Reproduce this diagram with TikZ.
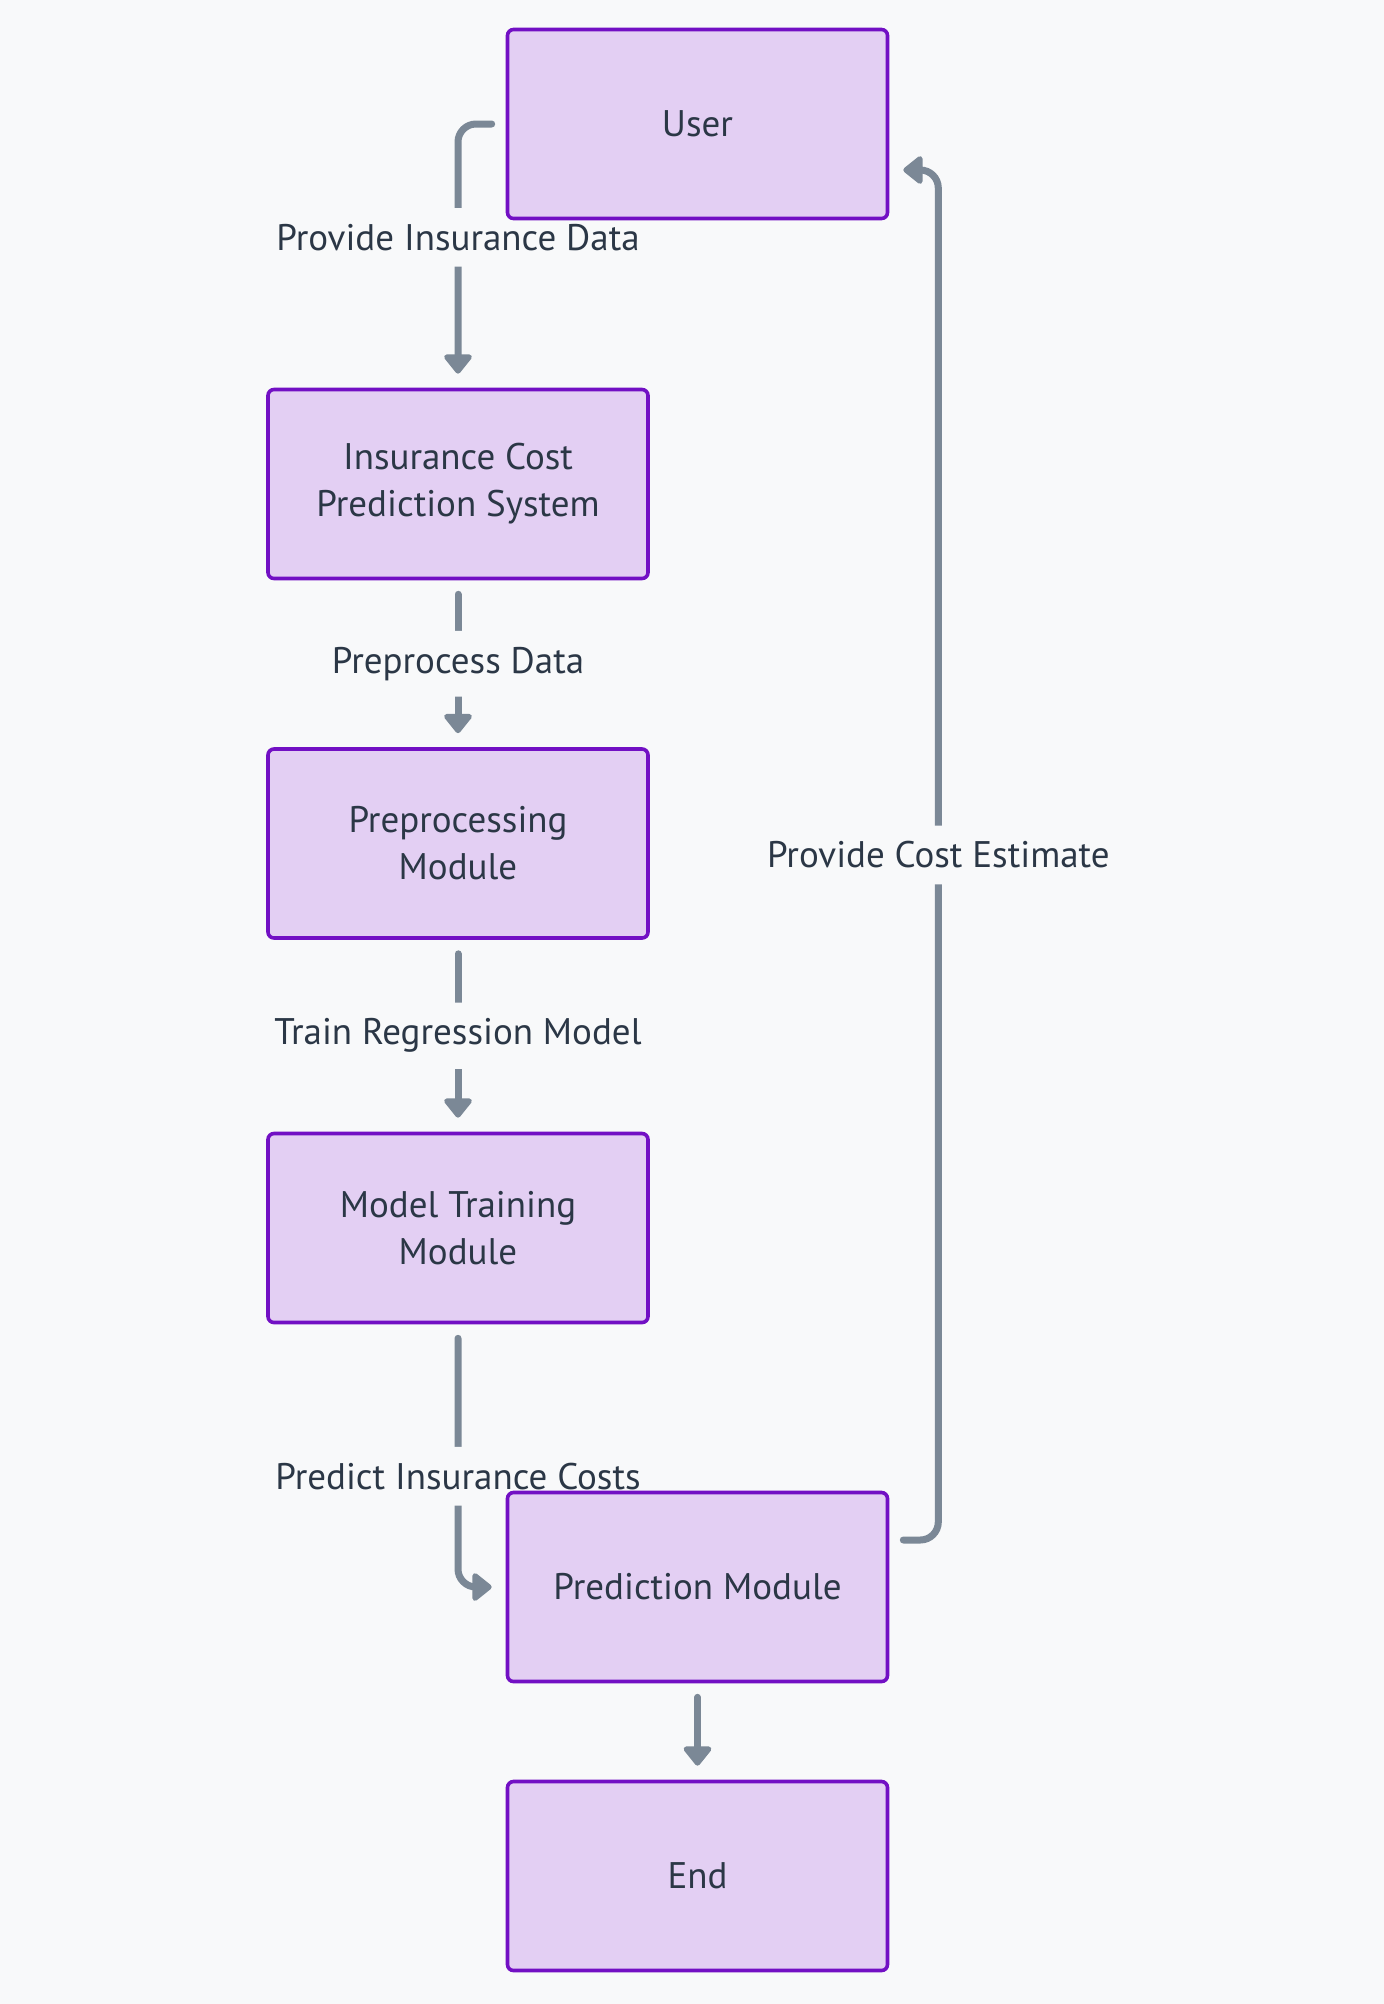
\documentclass[tikz,border=0pt]{standalone}
\usepackage{fontspec}
\setmainfont{PT Sans}
\usetikzlibrary{arrows.meta,backgrounds}

\definecolor{bgcol}{HTML}{F8F9FA}
\definecolor{boxfill}{HTML}{E3CFF3}
\definecolor{boxline}{HTML}{7210C4}
\definecolor{flowcol}{HTML}{7B8896}
\definecolor{txt}{HTML}{2B3746}

\begin{document}
\begin{tikzpicture}[x=0.5pt,y=-0.5pt,
    box/.style={draw=boxline, fill=boxfill, line width=1.8pt, rounded corners=3pt,
        minimum width=190pt, minimum height=94.5pt, align=center, text=txt,
        font=\fontsize{18.5}{23.5}\selectfont},
    flow/.style={draw=flowcol, line width=3.5pt, line cap=round, rounded corners=9pt,
        -{Triangle[width=16pt,length=10.5pt,round]}, shorten <=7pt, shorten >=7pt},
    lbl/.style={fill=bgcol, text=txt, font=\fontsize{18.5}{20}\selectfont,
        inner xsep=2pt, inner ysep=8pt}]
    \useasboundingbox (0,0) rectangle (1384,2004);

    % boxes
    \node[box] (user) at (697.5,124) {User};
    \node[box] (ics) at (458,484) {Insurance Cost\\Prediction System};
    \node[box] (pre) at (458,843.5) {Preprocessing\\Module};
    \node[box] (mt) at (458,1228) {Model Training\\Module};
    \node[box] (pm) at (697.5,1587) {Prediction Module};
    \node[box] (end) at (697.5,1876) {End};

    % connectors
    \begin{pgfonlayer}{background}
    \fill[bgcol] (0,0) rectangle (1384,2004);
    \draw[flow] (user.west) -| node[lbl, pos=0.715] {Provide Insurance Data} (ics.north);
    \draw[flow] (ics.south) -- node[lbl] {Preprocess Data} (pre.north);
    \draw[flow] (pre.south) -- node[lbl] {Train Regression Model} (mt.north);
    \draw[flow] (mt.south) |- node[lbl, pos=0.289] {Predict Insurance Costs} (pm.west);
    \draw[flow] (pm.south) -- (end.north);
    \draw[flow] ([yshift=23.5pt]pm.east) -| node[lbl, pos=0.75] {Provide Cost Estimate}
        ([xshift=24.5pt,yshift=-23pt]user.east) -- ([yshift=-23pt]user.east);
    \end{pgfonlayer}
\end{tikzpicture}
\end{document}
